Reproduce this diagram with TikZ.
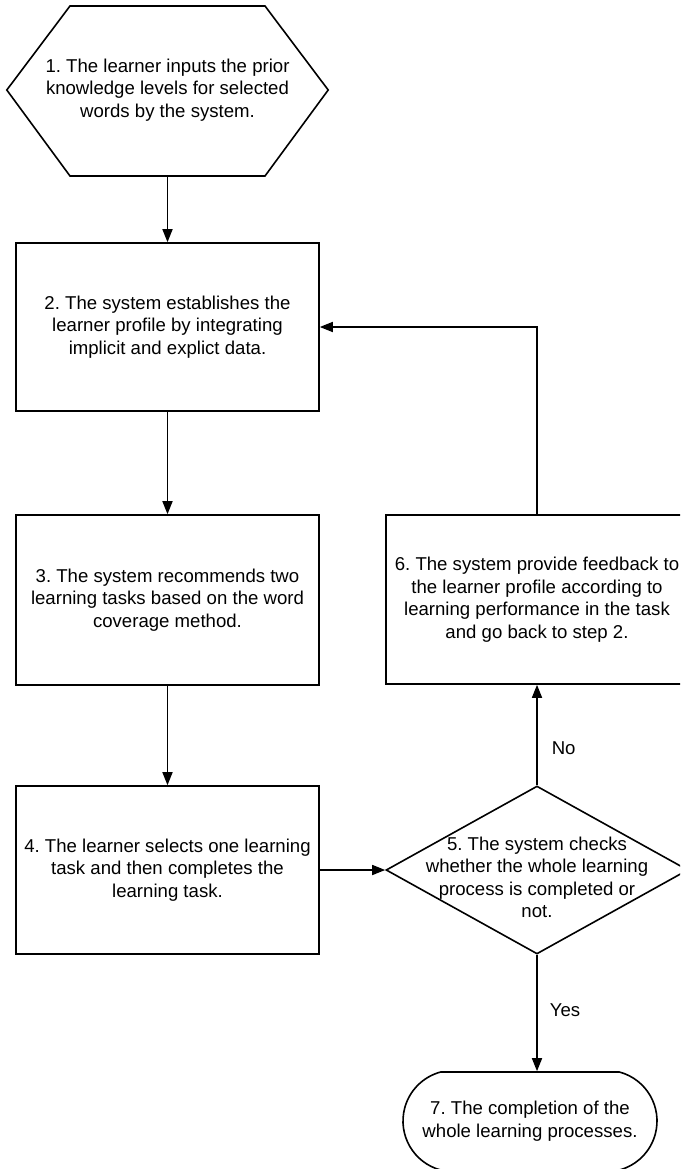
\documentclass[tikz,border=0pt]{standalone}
\usepackage{fontspec}
\setmainfont{Liberation Sans}
\usetikzlibrary{shapes.geometric,shapes.misc,arrows.meta}
\frenchspacing
\begin{document}
\begin{tikzpicture}[x=1pt,y=-1pt,
  every node/.style={font=\fontsize{18.6}{22.5}\selectfont, align=center, inner sep=0pt},
  stepbox/.style={draw, rectangle, line width=1.6pt, minimum width=303pt, minimum height=168pt},
  arr/.style={line width=1.6pt, -{Triangle[length=13pt,width=10pt]}},
  lbl/.style={anchor=west, font=\fontsize{18.6}{22.5}\selectfont}
]
\useasboundingbox (0,0) rectangle (680,1169);
\clip (0,0) rectangle (680,1169);
% 1 hexagon
\node[minimum width=321pt, minimum height=170pt] (h1) at (167.5,90) {1. The learner inputs the prior\\knowledge levels for selected\\words by the system.};
\draw[line width=1.6pt] (h1.west) -- (70,6) -- (265,6) -- (h1.east) -- (265,176) -- (70,176) -- cycle;
% boxes
\node[stepbox] (b2) at (167.5,327) {2. The system establishes the\\learner profile by integrating\\implicit and explict data.};
\node[stepbox, minimum height=170pt] (b3) at (167.5,600) {3. The system recommends two\\learning tasks based on the word\\coverage method.};
\node[stepbox] (b4) at (167.5,870) {4. The learner selects one learning\\task and then completes the\\learning task.};
\node[stepbox, minimum width=302pt, minimum height=169pt] (b6) at (537,599.5) {6. The system provide feedback to\\the learner profile according to\\learning performance in the task\\and go back to step 2.};
% diamond
\node[draw, diamond, line width=1.6pt, minimum width=302pt, minimum height=168pt] (d5) at (537,870) {};
\node (t5) at (537,877.5) {5. The system checks\\whether the whole learning\\process is completed or\\not.};
% terminal
\node[draw, rounded rectangle, rounded rectangle arc length=150, line width=1.6pt, minimum width=254pt, minimum height=98pt] (t7) at (530,1121) {7. The completion of the\\whole learning processes.};
% connectors
\draw[arr] (h1.south) -- (b2.north);
\draw[arr] (b2.south) -- (b3.north);
\draw[arr] (b3.south) -- (b4.north);
\draw[arr] (b4.east) -- (d5.west);
\draw[arr] (d5.north) -- node[lbl, pos=0.37, xshift=14pt] {No} (b6.south);
\draw[arr] (b6.north) |- (b2.east);
\draw[arr] (d5.south) -- node[lbl, pos=0.48, xshift=12pt] {Yes} (d5.south |- t7.north);
\end{tikzpicture}
\end{document}
